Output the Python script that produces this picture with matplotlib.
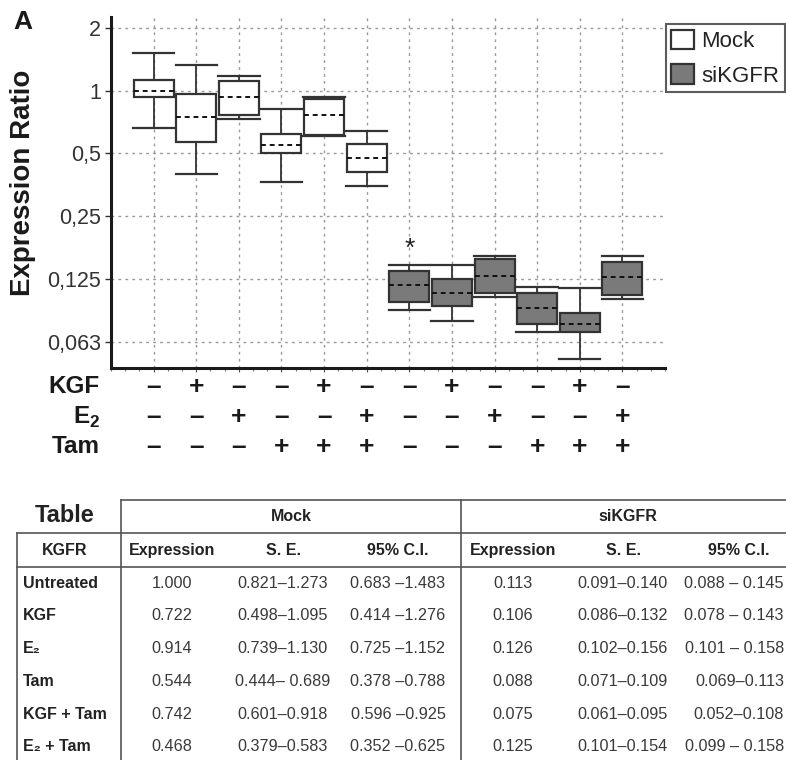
import numpy as np
import matplotlib
matplotlib.use('Agg')
import matplotlib.pyplot as plt
from matplotlib.patches import Patch
from matplotlib.lines import Line2D
from matplotlib import transforms

plt.rcParams['font.family'] = ['Liberation Sans', 'DejaVu Sans']
plt.rcParams['mathtext.fontset'] = 'custom'
plt.rcParams['mathtext.bf'] = 'Liberation Sans:bold'
plt.rcParams['mathtext.rm'] = 'Liberation Sans'

# box plot values (log2 axis)
mock_whis_hi = [1.52, 1.33, 1.17, 0.82, 0.93, 0.64]
mock_q3 = [1.12, 0.96, 1.11, 0.62, 0.91, 0.556]
mock_med = [1.0, 0.744, 0.933, 0.548, 0.768, 0.477]
mock_q1 = [0.933, 0.567, 0.765, 0.504, 0.610, 0.407]
mock_whis_lo = [0.661, 0.40, 0.735, 0.367, 0.605, 0.351]

si_whis_hi = [0.147, 0.147, 0.162, 0.115, 0.113, 0.162]
si_q3 = [0.137, 0.125, 0.156, 0.107, 0.086, 0.152]
si_med = [0.117, 0.108, 0.130, 0.091, 0.076, 0.128]
si_q1 = [0.097, 0.093, 0.108, 0.076, 0.070, 0.105]
si_whis_lo = [0.089, 0.079, 0.103, 0.070, 0.052, 0.100]

yticks = [2, 1, 0.5, 0.25, 0.125, 0.0625]
ytick_labels = ['2', '1', '0,5', '0,25', '0,125', '0,063']

kgf = ['–', '+', '–', '–', '+', '–'] * 2
e2 = ['–', '–', '+', '–', '–', '+'] * 2
tam = ['–', '–', '–', '+', '+', '+'] * 2

# table
row_names = ['Untreated', 'KGF', 'E₂', 'Tam', 'KGF + Tam', 'E₂ + Tam']
mock_expr = ['1.000', '0.722', '0.914', '0.544', '0.742', '0.468']
mock_se = ['0.821–1.273', '0.498–1.095', '0.739–1.130', '0.444– 0.689', '0.601–0.918', '0.379–0.583']
mock_ci = ['0.683 –1.483', '0.414 –1.276', '0.725 –1.152', '0.378 –0.788', '0.596 –0.925', '0.352 –0.625']
si_expr = ['0.113', '0.106', '0.126', '0.088', '0.075', '0.125']
si_se = ['0.091–0.140', '0.086–0.132', '0.102–0.156', '0.071–0.109', '0.061–0.095', '0.101–0.154']
si_ci = ['0.088 – 0.145', '0.078 – 0.143', '0.101 – 0.158', '0.069–0.113', '0.052–0.108', '0.099 – 0.158']

W, H = 786, 760
fig = plt.figure(figsize=(W / 100, H / 100), dpi=100)


def fx(x):
    return x / W


def fy(y):
    return 1 - y / H


ax = fig.add_axes([fx(111), fy(368), fx(665) - fx(111), fy(17) - fy(368)])

edge = '#333333'
stats = []
for lo, a, m, b, hi in zip(mock_whis_lo + si_whis_lo, mock_q1 + si_q1, mock_med + si_med,
                           mock_q3 + si_q3, mock_whis_hi + si_whis_hi):
    stats.append({'whislo': lo, 'q1': a, 'med': m, 'q3': b, 'whishi': hi, 'fliers': []})

pos = np.arange(1, 13)
bp = ax.bxp(stats, positions=pos, widths=0.94, capwidths=0.97, patch_artist=True,
            showfliers=False,
            boxprops=dict(edgecolor=edge, linewidth=1.6),
            whiskerprops=dict(color=edge, linewidth=1.3),
            capprops=dict(color=edge, linewidth=1.6),
            medianprops=dict(color='#111111', linewidth=1.4, linestyle=(0, (2.5, 2))),
            zorder=3)
for i, box in enumerate(bp['boxes']):
    box.set_facecolor('white' if i < 6 else '#7a7a7a')

ax.set_yscale('log', base=2)
ax.set_ylim(0.047, 2.25)
ax.set_xlim(0, 13)
ax.set_yticks(yticks)
ax.set_yticklabels(ytick_labels)
ax.yaxis.set_minor_locator(matplotlib.ticker.NullLocator())
ax.set_xticks(pos)
ax.set_xticklabels([])
ax.set_xticks(np.arange(0, 13.01, 1 / 3), minor=True)
ax.tick_params(axis='y', labelsize=15.5, colors='#333333', length=4, width=1, pad=3)
ax.tick_params(axis='x', which='major', length=3, width=0.8, colors='#555555')
ax.tick_params(axis='x', which='minor', length=2.5, width=0.8, colors='#777777')

ax.grid(True, which='major', color='#9a9a9a', linestyle=(0, (2, 3)), linewidth=1, zorder=0)
ax.set_axisbelow(True)
for s in ['top', 'right']:
    ax.spines[s].set_visible(False)
for s in ['left', 'bottom']:
    ax.spines[s].set_linewidth(2.2)
    ax.spines[s].set_color('#1a1a1a')

ax.text(7, 0.175, '*', ha='center', va='center', fontsize=19, color='#222222')

# treatment rows under the x axis
trans = transforms.blended_transform_factory(ax.transData, ax.transAxes)
rows = [(kgf, 'KGF', -0.054), (e2, r'E$_{\mathbf{2}}$', -0.14), (tam, 'Tam', -0.225)]
for signs, name, yy in rows:
    ax.text(-0.02, yy, name, transform=ax.transAxes, ha='right', va='center',
            fontsize=17.5, fontweight='bold', color='#1a1a1a')
    for x, s in zip(pos, signs):
        ax.text(x, yy, s, transform=trans, ha='center', va='center',
                fontsize=19, fontweight='bold', color='#1a1a1a')

fig.text(fx(23), fy(183), 'Expression Ratio', rotation=90, ha='center', va='center',
         fontsize=20, fontweight='bold', color='#1a1a1a')
fig.text(fx(23), fy(22), 'A', ha='center', va='center', fontsize=19,
         fontweight='bold', color='#1a1a1a')

handles = [Patch(facecolor='white', edgecolor=edge, linewidth=1.6),
           Patch(facecolor='#7a7a7a', edgecolor=edge, linewidth=1.6)]
leg = fig.legend(handles, ['Mock', 'siKGFR'], loc='upper right',
                 bbox_to_anchor=(fx(785), fy(24)), fontsize=16, frameon=True,
                 fancybox=False, handlelength=1.0, handleheight=1.0,
                 handletextpad=0.35, labelspacing=0.55, borderpad=0.25,
                 borderaxespad=0)
leg.get_frame().set_edgecolor('#333333')
leg.get_frame().set_linewidth(1.5)
for t in leg.get_texts():
    t.set_color('#222222')

# table
lc = '#555555'


def hline(y, x0, x1):
    fig.add_artist(Line2D([fx(x0), fx(x1)], [fy(y), fy(y)], color=lc, linewidth=1.2))


def vline(x, y0, y1):
    fig.add_artist(Line2D([fx(x), fx(x)], [fy(y0), fy(y1)], color=lc, linewidth=1.2))


hline(500, 120.7, W)
hline(533.3, 16.7, W)
hline(566.7, 16.7, W)
vline(16.7, 533.3, H)
vline(120.7, 500, H)
vline(461, 500, H)

fig.text(fx(65), fy(516), 'Table', ha='center', va='center', fontsize=17,
         fontweight='bold', color='#222222')
fig.text(fx(291.7), fy(516.7), 'Mock', ha='center', va='center', fontsize=11.5,
         fontweight='bold', color='#222222')
fig.text(fx(628), fy(516.7), 'siKGFR', ha='center', va='center', fontsize=11.5,
         fontweight='bold', color='#222222')
fig.text(fx(65), fy(550.7), 'KGFR', ha='center', va='center', fontsize=11.5,
         fontweight='bold', color='#222222')

col_x = [171.7, 283, 398, 512.7, 623, 739]
col_heads = ['Expression', 'S. E.', '95% C.I.', 'Expression', 'S. E.', '95% C.I.']
for x, h in zip(col_x, col_heads):
    fig.text(fx(x), fy(550.7), h, ha='center', va='center', fontsize=11.5,
             fontweight='bold', color='#222222')

cols = [mock_expr, mock_se, mock_ci, si_expr, si_se, si_ci]
for i, name in enumerate(row_names):
    y = 583.3 + 32.7 * i
    fig.text(fx(23.3), fy(y), name, ha='left', va='center', fontsize=11.5,
             fontweight='bold', color='#222222')
    for j, (x, col) in enumerate(zip(col_x, cols)):
        if j == 5:
            # last column sits against the right edge
            fig.text(fx(784), fy(y), col[i], ha='right', va='center', fontsize=11.7,
                     color='#3a3a3a')
        else:
            fig.text(fx(x), fy(y), col[i], ha='center', va='center', fontsize=11.7,
                     color='#3a3a3a')

fig.savefig('out.png', dpi=100)
